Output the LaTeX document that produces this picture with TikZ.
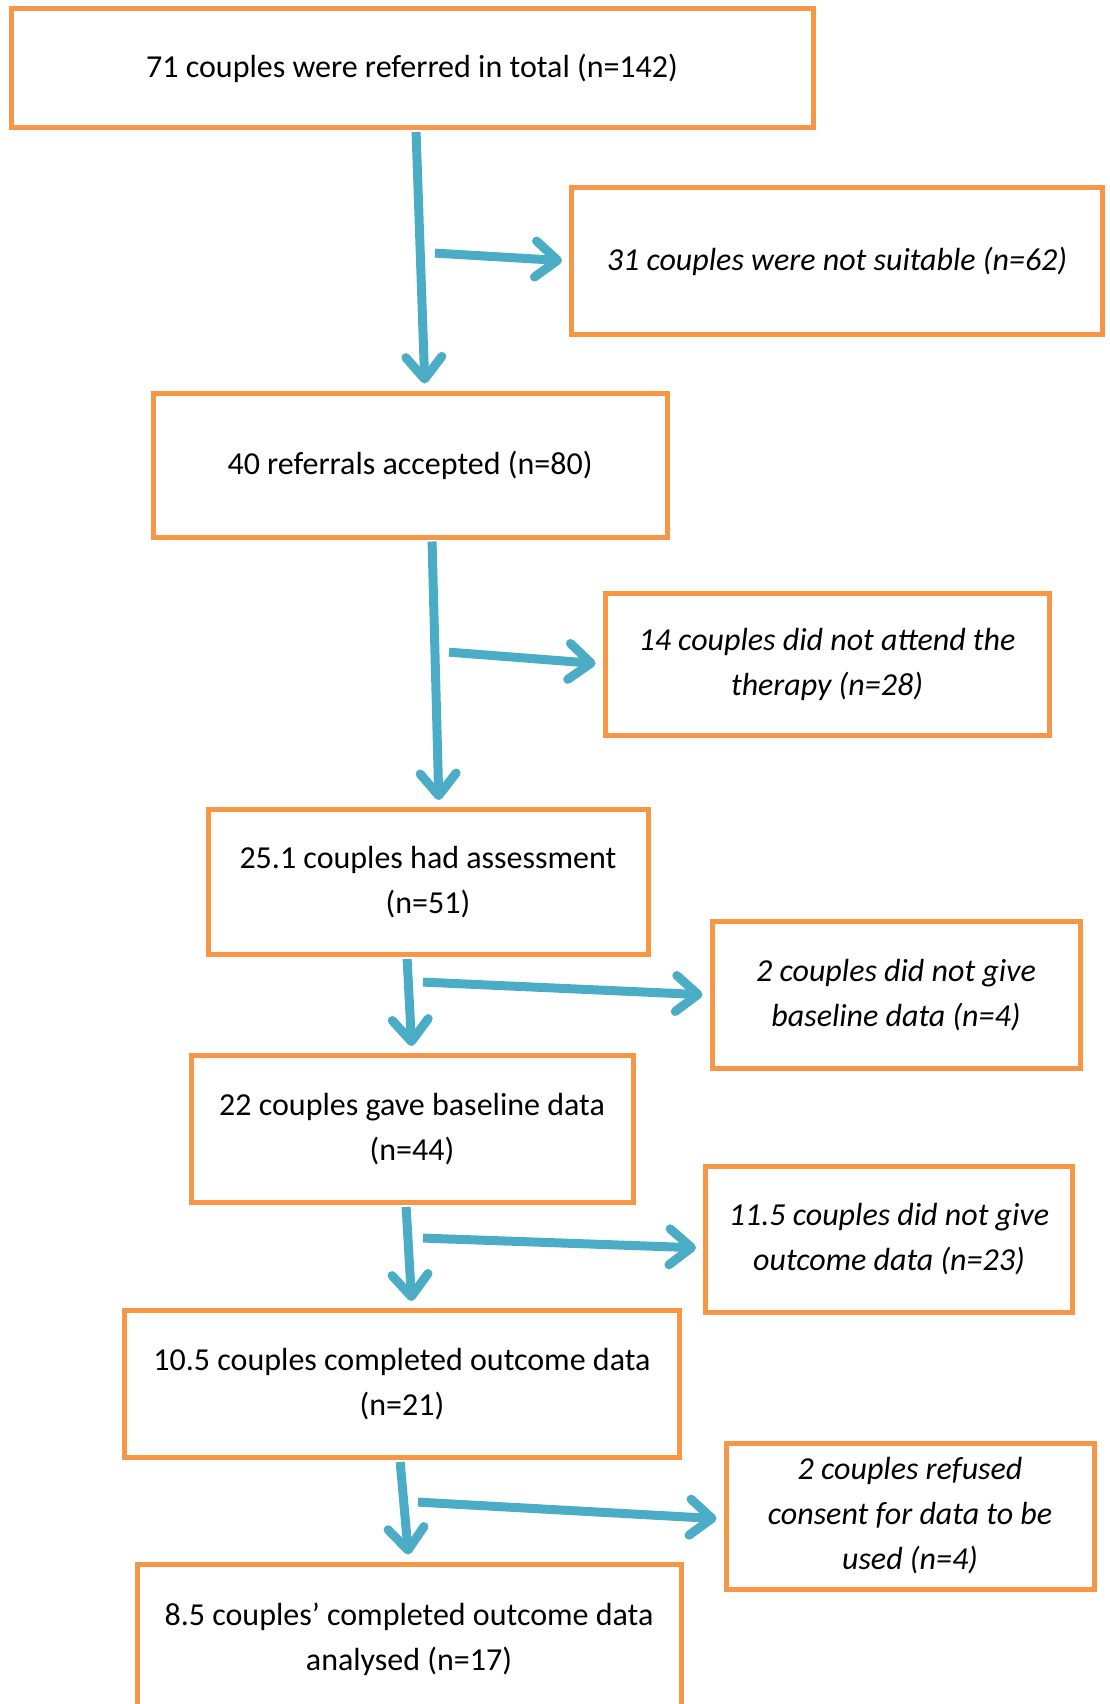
\documentclass[tikz,border=0pt]{standalone}
\usepackage{fontspec}
\setmainfont{Carlito}
\usetikzlibrary{arrows.meta, positioning}
\definecolor{boxorange}{HTML}{F79646}
\definecolor{flowblue}{HTML}{4BACC6}
\tikzset{
  box/.style={draw=boxorange, line width=5pt, align=center, inner sep=0pt,
    font=\fontsize{32}{45}\selectfont},
  outbox/.style={box, font=\fontsize{32}{45}\selectfont\itshape},
  flow/.style={draw=flowblue, line width=9pt,
    -{Straight Barb[length=22pt,width=36pt,round]},
    shorten <=2pt, shorten >=7pt},
}

\begin{document}
\begin{tikzpicture}[x=1pt, y=-1pt]
		\clip (0,0) rectangle (1109,1704);

		% boxes
		\node[box, minimum width=802pt, minimum height=119pt] (referred) at (412,68) {71 couples were referred in total (n=142)};
		\node[outbox, minimum width=531pt, minimum height=147pt] (unsuitable) at (837,261) {31 couples were not suitable (n=62)};
		\node[box, minimum width=514pt, minimum height=144pt] (accepted) at (410,465) {40 referrals accepted (n=80)};
		\node[outbox, minimum width=444pt, minimum height=142pt] (notattend) at (827,664) {14 couples did not attend the\\therapy (n=28)};
		\node[box, minimum width=440pt, minimum height=145pt] (assessed) at (428,882) {25.1 couples had assessment\\(n=51)};
		\node[outbox, minimum width=368pt, minimum height=147pt] (nobaseline) at (896,995) {2 couples did not give\\baseline data (n=4)};
		\node[box, minimum width=442pt, minimum height=147pt] (baseline) at (412,1129) {22 couples gave baseline data\\(n=44)};
		\node[outbox, minimum width=367pt, minimum height=146pt] (nooutcome) at (889,1239) {11.5 couples did not give\\outcome data (n=23)};
		\node[box, minimum width=555pt, minimum height=147pt] (completed) at (402,1384) {10.5 couples completed outcome data\\(n=21)};
		\node[outbox, minimum width=368pt, minimum height=146pt] (refused) at (910,1516) {2 couples refused\\consent for data to be\\used (n=4)};
		\node[box, minimum width=544pt, minimum height=150pt] (analysed) at (409,1639) {8.5 couples’ completed outcome data\\analysed (n=17)};

		% side arrows start here
		\coordinate (s1) at (433,253);
		\coordinate (s2) at (447,652);
		\coordinate (s3) at (421,982);
		\coordinate (s4) at (421,1238);
		\coordinate (s5) at (416,1502);

		% arrows
		\draw[flow] ([xshift=4pt]referred.south) -- ([xshift=15pt]accepted.north);
		\draw[flow] ([xshift=22pt]accepted.south) -- ([xshift=11pt]assessed.north);
		\draw[flow] ([xshift=-21pt]assessed.south) -- (baseline.north);
		\draw[flow] ([xshift=-6pt]baseline.south) -- ([xshift=10pt]completed.north);
		\draw[flow] ([xshift=-2pt]completed.south) -- (analysed.north);

		\draw[flow] (s1) -- (unsuitable.west);
		\draw[flow] (s2) -- (notattend.west);
		\draw[flow] (s3) -- (nobaseline.west);
		\draw[flow] (s4) -- ([yshift=-9pt]nooutcome.west);
		\draw[flow] (s5) -- ([yshift=-3pt]refused.west);

	\end{tikzpicture}
\end{document}
